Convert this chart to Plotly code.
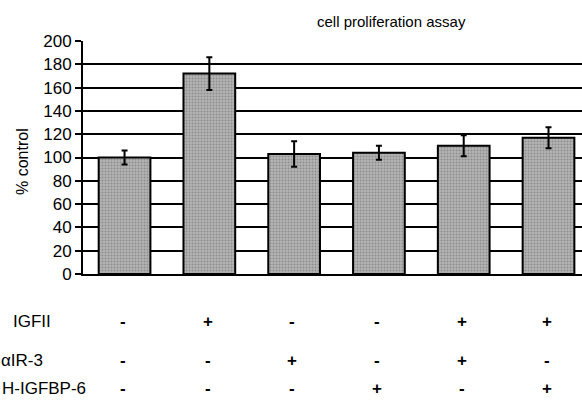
import plotly.graph_objects as go

# ---- data ----
groups = [0, 1, 2, 3, 4, 5]
values = [100, 172, 103, 104, 110, 117]
errors = [6, 14, 11, 6, 9, 9]
y_ticks = [0, 20, 40, 60, 80, 100, 120, 140, 160, 180, 200]
row_labels = ["IGFII", "\u03b1IR-3", "H-IGFBP-6"]
igfii = ["-", "+", "-", "-", "+", "+"]
air3 = ["-", "-", "+", "-", "+", "-"]
higfbp6 = ["-", "-", "-", "+", "-", "+"]
title_text = "cell proliferation assay"
y_title = "% control"

W, H = 582, 400
PLOT_L, PLOT_T, PLOT_B = 83, 41, 274   # pixels
M_L, M_T = PLOT_L, PLOT_T
plot_h = PLOT_B - PLOT_T
M_B = H - M_T - plot_h
M_R = 0
plot_w = W - M_L - M_R


def py(pix):
    """pixel y -> paper y"""
    return (PLOT_B - pix) / plot_h


def px(pix):
    """pixel x -> paper x"""
    return (pix - PLOT_L) / plot_w


FONT = "Liberation Sans, Arial, sans-serif"

fig = go.Figure()
fig.add_trace(go.Bar(
    x=groups, y=values, width=0.61,
    marker=dict(
        color="#b4b4b4",
        line=dict(color="black", width=2),
        pattern=dict(shape=".", fgcolor="#666666", size=3, solidity=0.35),
    ),
    error_y=dict(type="data", array=errors, visible=True,
                 color="black", thickness=2, width=3),
    showlegend=False,
))

fig.update_layout(
    width=W, height=H,
    margin=dict(l=M_L, r=M_R, t=M_T, b=M_B),
    paper_bgcolor="white", plot_bgcolor="white",
    font=dict(family=FONT, color="black"),
)
fig.update_xaxes(range=[-0.49, 5.395], showticklabels=False, showgrid=False,
                 zeroline=False, showline=True, linecolor="black", linewidth=2,
                 ticks="")
fig.update_yaxes(range=[0, 200], tickvals=y_ticks, showgrid=True,
                 gridcolor="black", gridwidth=1.5, zeroline=False,
                 showline=True, linecolor="black", linewidth=2,
                 ticks="outside", ticklen=6, tickwidth=1.5, tickcolor="black",
                 tickfont=dict(size=17, family=FONT, color="black"))

ann = []
ann.append(dict(text=title_text, x=px(391), y=py(22), xref="paper", yref="paper",
                showarrow=False, font=dict(size=15, family=FONT),
                xanchor="center", yanchor="middle"))
ann.append(dict(text=y_title, x=px(22), y=py(162), xref="paper", yref="paper",
                showarrow=False, textangle=-90, font=dict(size=16, family=FONT),
                xanchor="center", yanchor="middle"))

row_y = [321, 360, 388]
label_right = [53, 45, 88]
for lab, yy, xx in zip(row_labels, row_y, label_right):
    ann.append(dict(text=lab, x=px(xx), y=py(yy), xref="paper", yref="paper",
                    showarrow=False, font=dict(size=17, family=FONT),
                    xanchor="right", yanchor="middle"))
for signs, yy in zip([igfii, air3, higfbp6], row_y):
    for g, s in zip(groups, signs):
        ann.append(dict(text="<b>%s</b>" % s, x=g - 0.02, y=py(yy), xref="x",
                        yref="paper", showarrow=False,
                        font=dict(size=17, family=FONT),
                        xanchor="center", yanchor="middle"))
fig.update_layout(annotations=ann)

fig.write_html("out.html",
               config={"displayModeBar": False},
               post_script="document.body.style.margin='0';")
